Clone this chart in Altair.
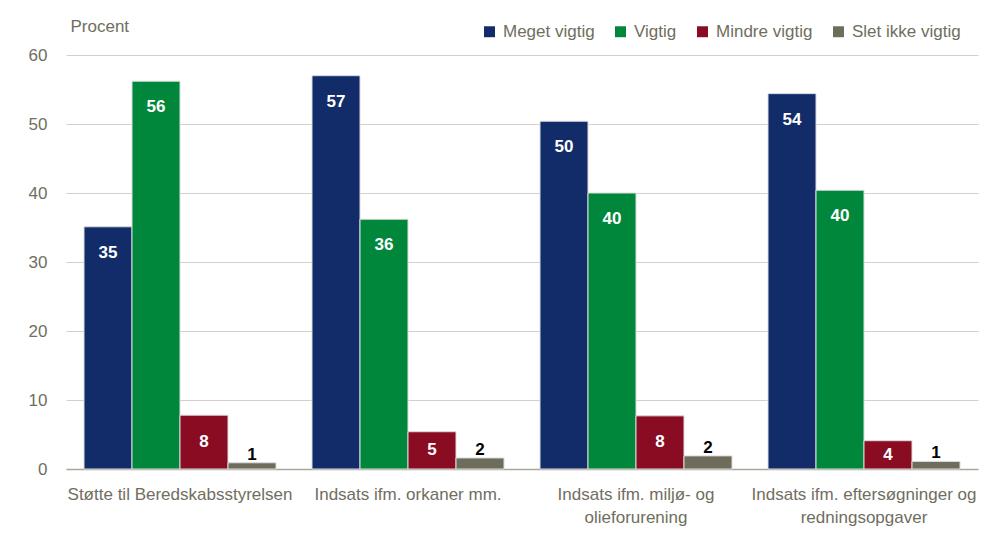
import altair as alt
import pandas as pd

categories = [
    "Støtte til Beredskabsstyrelsen",
    "Indsats ifm. orkaner mm.",
    "Indsats ifm. miljø- og\nolieforurening",
    "Indsats ifm. eftersøgninger og\nredningsopgaver",
]
series = ["Meget vigtig", "Vigtig", "Mindre vigtig", "Slet ikke vigtig"]
colors = ["#112C69", "#00873C", "#8A0C22", "#6E6D5C"]

meget_vigtig = [35.1, 57.0, 50.4, 54.4]
vigtig = [56.2, 36.2, 40.0, 40.4]
mindre_vigtig = [7.8, 5.4, 7.7, 4.1]
slet_ikke = [0.9, 1.6, 1.9, 1.1]
labels = [
    [35, 57, 50, 54],
    [56, 36, 40, 40],
    [8, 5, 8, 4],
    [1, 2, 2, 1],
]

rows = []
for s, vals, labs in zip(series, [meget_vigtig, vigtig, mindre_vigtig, slet_ikke], labels):
    for c, v, l in zip(categories, vals, labs):
        rows.append({"category": c, "series": s, "value": v, "label": str(l)})
df = pd.DataFrame(rows)

FONT = "Liberation Sans, Arial, sans-serif"
GRAY = "#6F6E60"
FS = 17

x_enc = alt.X(
    "category:N",
    sort=categories,
    scale=alt.Scale(paddingInner=0, paddingOuter=0),
    axis=alt.Axis(
        title=None,
        labelAngle=0,
        labelExpr="split(datum.label, '\\n')",
        labelFont=FONT,
        labelFontSize=FS,
        labelColor=GRAY,
        labelPadding=17,
        labelLineHeight=23,
        labelBaseline="top",
        labelLimit=0,
        ticks=False,
        domainColor="#A9A89B",
        domainWidth=1.5,
        grid=False,
    ),
)
xo_enc = alt.XOffset(
    "series:N", sort=series, scale=alt.Scale(paddingOuter=0.375, paddingInner=0)
)

bars = alt.Chart(df).mark_bar(stroke="#dcdcdc", strokeWidth=1).encode(
    x=x_enc,
    xOffset=xo_enc,
    y=alt.Y(
        "value:Q",
        scale=alt.Scale(domain=[0, 60], nice=False),
        axis=alt.Axis(
            values=[0, 10, 20, 30, 40, 50, 60],
            title="Procent",
            titleAngle=0,
            titleX=4,
            titleY=-24,
            titleAlign="left",
            titleBaseline="alphabetic",
            titleFont=FONT,
            titleFontSize=FS,
            titleFontWeight="normal",
            titleColor=GRAY,
            labelFont=FONT,
            labelFontSize=FS,
            labelColor=GRAY,
            labelPadding=19,
            ticks=False,
            domain=False,
            gridColor="#D3D2C8",
            gridWidth=1.2,
        ),
    ),
    color=alt.Color(
        "series:N",
        sort=series,
        scale=alt.Scale(domain=series, range=colors),
        legend=alt.Legend(
            title=None,
            orient="none",
            direction="horizontal",
            legendX=415,
            legendY=-32,
            symbolType="square",
            symbolSize=120,
            symbolStrokeWidth=0,
            labelFont=FONT,
            labelFontSize=FS,
            labelColor=GRAY,
            labelOffset=5,
            labelLimit=0,
            columnPadding=17,
        ),
    ),
)

top_labels = alt.Chart(df).transform_filter(
    "datum.series == 'Meget vigtig' || datum.series == 'Vigtig'"
).mark_text(
    font=FONT, fontSize=FS, fontWeight="bold", color="white", baseline="middle", dy=26
).encode(x=x_enc, xOffset=xo_enc, y="value:Q", text="label:N")

mid_labels = alt.Chart(df).transform_filter(
    "datum.series == 'Mindre vigtig'"
).transform_calculate(mid="datum.value / 2").mark_text(
    font=FONT, fontSize=FS, fontWeight="bold", color="white", baseline="middle"
).encode(x=x_enc, xOffset=xo_enc, y="mid:Q", text="label:N")

above_labels = alt.Chart(df).transform_filter(
    "datum.series == 'Slet ikke vigtig'"
).mark_text(
    font=FONT, fontSize=FS, fontWeight="bold", color="black", baseline="alphabetic", dy=-3
).encode(x=x_enc, xOffset=xo_enc, y="value:Q", text="label:N")

chart = (
    alt.layer(bars, top_labels, mid_labels, above_labels)
    .properties(
        width=912,
        height=414,
        autosize=alt.AutoSizeParams(type="none"),
        padding={"left": 58, "top": 47, "right": 2, "bottom": 57},
        background="white",
    )
    .configure_view(stroke=None)
)

chart.save("out.html", embed_options={"renderer": "svg", "actions": False})
